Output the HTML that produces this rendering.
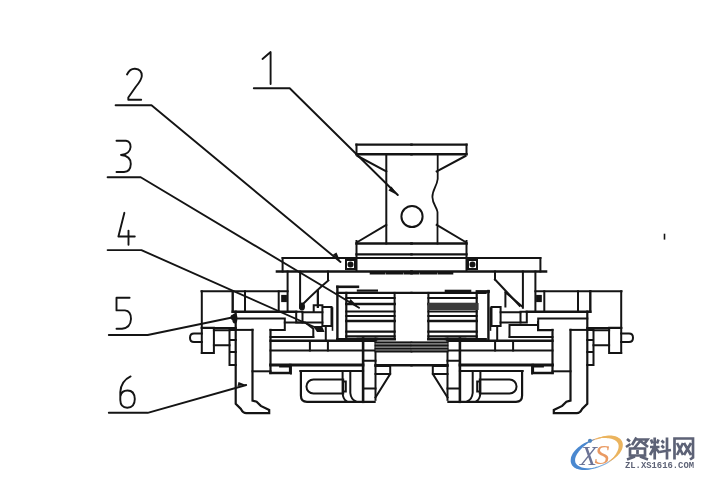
<!DOCTYPE html>
<html><head><meta charset="utf-8">
<style>
html,body{margin:0;padding:0;background:#fff;width:702px;height:478px;overflow:hidden}
svg{display:block;filter:blur(0.3px)}
</style></head>
<body>
<svg width="702" height="478" viewBox="0 0 702 478">
<rect width="702" height="478" fill="#fff"/>
<g fill="none" stroke="#141414" stroke-width="2" stroke-linecap="square">
<!-- labels -->
<g stroke-width="1.9" stroke-linecap="round" stroke-linejoin="round">
 <path d="M262.5 59 L270.6 52 V84"/>
 <path d="M127 74.5 Q130 68.5 135 68.8 Q142 69.5 141.8 76 Q141.5 80 136 86.5 L128.3 97.5 V99.7 H141.2"/>
 <path d="M116.5 140.8 H126 Q130.6 141.5 130.6 147 Q130 154 121 155 Q131 156 130.8 164 Q130.5 171.8 124 172 H116.5"/>
 <path d="M124.4 212.8 L118.4 236.5 H134.8 M128.5 230.6 V244.7"/>
 <path d="M129.6 297.8 H116.5 V310.4 H125 Q131 311 131 319 Q130.5 328 122 328.7 H116.5"/>
 <path d="M130.6 376.4 Q121 381 120.3 392 V400 Q120.5 407.7 127.2 407.7 Q134.8 407.5 134.8 399 Q134.5 390.5 127.5 390.5 Q121.5 390.5 120.5 396"/>
 <path d="M253.8 88.2 H289.7 L397.8 195"/>
 <path d="M115.6 105.3 H151.5 L340.5 262"/>
 <path d="M107.6 177.2 H140.7 L359 307.8"/>
 <path d="M107.6 250.1 H141.4 L320 329.5"/>
 <path d="M108.8 335 H147.7 L233.3 317.3"/>
 <path d="M108.8 412.8 H147.7 L246.2 385"/>
</g>
<g fill="#141414" stroke="none">
 <path d="M397.8 195.2 L388.5 190.5 L391.5 186.5 Z"/>
 <path d="M340.5 262 L333 254.5 L336.5 252.5 Z"/>
 <path d="M359 307.8 L348.5 302.5 L350.5 299 Z"/>
 <circle cx="233.3" cy="317.3" r="2.8"/>
 <ellipse cx="234.8" cy="318.5" rx="2.6" ry="5"/>
 <path d="M246.2 385 L237.5 386 L238.5 382 Z"/>
 <path d="M313 326 L322 326 L324.5 332 L317 332 Z"/>
</g>

<g id="half">
 <!-- plate 1 / column base -->
 <path d="M356.5 144.6 H411.5 M356.5 154.2 H411.5" stroke-width="2.4"/>
 <path d="M356.5 144.6 V154.2"/>
 <path d="M357.5 156 L386.3 171.5"/>
 <path d="M386.3 224.8 L357.5 242"/>
 <path d="M356.5 243.5 H411.5" stroke-width="2.6"/>
 <path d="M356.5 241 V271"/>
 <path d="M356.5 254.4 H411.5" stroke-width="2.4"/>
 <!-- plate 2 -->
 <path d="M282.6 258 H411.5"/>
 <path d="M282.6 258 V271.5"/>
 <path d="M277 271.5 H411.5" stroke-width="2.6"/>
 <rect x="346" y="260" width="9" height="9"/>
 <circle cx="350.5" cy="264.5" r="2" fill="#141414"/>
 <path d="M371 273.3 H384 M387 273.3 H402 M405 273.3 H411.5" stroke-width="2.6"/>
 <!-- legs -->
 <path d="M287.6 271.5 V310.3 M300.1 271.5 V307.8"/>
 <path d="M328 271.5 V279.5"/>
 <!-- outer box -->
 <path d="M201.5 291.3 H287.6"/>
 <path d="M201.8 291.3 V352.9"/>
 <path d="M232.7 291.3 V311.7" stroke-width="2.4"/>
 <path d="M245 291.3 V311.7"/>
 <path d="M278.7 291.3 V311.7"/>
 <rect x="281.8" y="295.5" width="4.5" height="6" fill="#141414" stroke-width="1.2"/>
 <path d="M201.8 328 H235.7" stroke-width="2.2"/>
 <!-- T bar -->
 <path d="M232.7 311.7 H296.2" stroke-width="2.4"/>
 <path d="M235.7 318.5 H284.8 V329.9 H270.5"/>
 <path d="M270.5 329.9 V373" stroke-width="2.2"/>
 <!-- claw -->
 <path d="M235.7 311.7 V403.8 L240.9 409 Q243 413.2 246.2 413.2 H269.2 V410 L260.8 405.9 L256.6 401.7 L252.5 400.6 V329.9" stroke-width="2.2"/>
 <path d="M252.5 329.9 H235.7"/>
 <path d="M252.5 371.3 H270.5"/>
 <path d="M270.5 373 H290.2 V365" stroke-width="2.6"/>
 <path d="M229.5 330 V365 M229.5 330 H235.7 M229.5 340 H235.7 M229.5 352 H235.7 M229.5 365 H235.7"/>
 <!-- pin -->
 <path d="M201.8 327.7 H213.9 V352.9 H201.8"/>
 <path d="M201.8 333.5 H194 Q190 333.5 190 337.8 Q190 342 194 342 H201.8"/>
 <path d="M213.9 330.3 H229.5 M213.9 345.3 H229.5"/>
 <!-- rails -->
 <path d="M270.5 337 H313.3" stroke-width="2"/>
 <path d="M270.5 340.7 H375.5" stroke-width="2.4"/>
 <path d="M270.5 350.5 H363" stroke-width="2"/>
 <path d="M309.9 341 V350.5 M327.9 341 V350.5"/>
 <path d="M270.5 365 H363" stroke-width="2.8"/>
 <path d="M363.1 338.5 V401.8" stroke-width="2.6"/>
 <path d="M375.5 338.5 V399.8"/>
 <path d="M363.1 350.5 H375.5 M363.1 360.8 H375.5 M363.1 388.6 H375.5"/>
 <path d="M357.9 339 H377" stroke-width="2.6"/>
 <rect x="375.5" y="341.5" width="36" height="10" fill="#9a9a9a" stroke="none"/>
 <path d="M375.5 342.3 H411.5 M375.5 345.5 H411.5 M375.5 348.6 H411.5 M375.5 351.5 H411.5" stroke-width="1.8"/>
 <path d="M375.5 365.2 H411.5" stroke-width="2.4"/>
 <path d="M375.5 365.9 H390.2 V374 H375.5 M390.2 374 L375.5 397.4"/>
 <!-- slot box -->
 <path d="M300.3 371 H363.1"/>
 <path d="M300.9 371 V395.5 Q300.9 401.8 307 401.8 H374.6" stroke-width="2.2"/>
 <path d="M342.6 371 V393 Q343 399 346.4 401.2 M350.3 371 V393 Q351 399 355.4 401.2"/>
 <path d="M313.5 379.4 H343.2 V393.5 H313.5 A7 7 0 0 1 313.5 379.4 Z"/>
 <path d="M343.2 381.5 H345.8 V391.5 H343.2"/>
 <path d="M280 366.5 H291 V373.5" stroke-width="1.8"/>
 <!-- coil left -->

 <path d="M346.3 292.9 V337.1" stroke-width="2.2"/>
 <path d="M337.4 292.9 H411.5" stroke-width="2.2"/>
 <path d="M346.3 298 H394.6 M346.3 311.4 H394.6 M346.3 316 H394.6" stroke-width="2"/>
 <path d="M346.3 304 H394.6 M346.3 321 H394.6" stroke-width="2.6"/>
 <path d="M346.3 331.7 H394.6 M346.3 336.3 H394.6" stroke-width="2.2"/>
 <path d="M394.6 292.9 V339"/>
 <path d="M337.4 339.2 H394.6" stroke-width="2.6"/>
 <!-- nut / pin -->
 <path d="M296.2 311.7 H302.5 V322.5 H296.2 Z"/>
 <path d="M302.5 312.2 H322.4 M302.5 322.5 H322.4"/>
 <path d="M322.4 307.1 H331.5 V325.9 H322.4 Z"/>
 <path d="M332.5 308 V330" stroke-width="1.6"/>
 <path d="M325.8 327 V341"/>
</g>
<use href="#half" transform="matrix(-1 0 0 1 823 0)"/>

<!-- asymmetric -->
<path d="M328.3 280.5 Q317 290 303 304"/>
<path d="M317.9 290 V306.8"/>
<path d="M313.7 305.3 H322.4 M313.7 305.3 V312"/>
<path d="M284.8 322.5 H305.3 L313.3 328.8 V337"/>
<path d="M337.4 286.8 V339.9" stroke-width="2.4"/>
<path d="M488.4 291 V339.9" stroke-width="2.4"/>
<path d="M538 322 V330.3 H550 M509.5 324.9 V337 M509.5 324.9 H538" />
<path d="M505.4 292.2 V306.5 M505.4 292.2 L521.7 306"/>
<path d="M337.4 286.8 H357.9" stroke-width="2.6"/>
<path d="M357.9 290.6 H376.9" stroke-width="2.2"/>
<path d="M446 291 H470" stroke-width="2.6"/>
<path d="M477 291.5 H488.5" stroke-width="2.8"/>
<path d="M317.8 291 V307"/>
<ellipse cx="302" cy="306.5" rx="2" ry="3" fill="#141414"/>
<path d="M495 279.5 L519.7 305.8"/>
<path d="M386.3 154.2 V243.5"/>
<path d="M437.7 154.2 V179 C437 186 432.3 190 432.4 197 C432.5 204 436.8 207 437.5 212 V243.5" stroke-width="1.8"/>
<circle cx="412" cy="216.5" r="10.6"/>
<path d="M431 306.5 H476" stroke-width="7" stroke="#3a3a3a" stroke-dasharray="6 1.5 4 1.2"/>
<path d="M664.5 234.5 V238.8" stroke-width="1.6"/>
</g>

<!-- watermark logo -->
<defs>
 <linearGradient id="gl" x1="0" y1="1" x2="1" y2="0">
  <stop offset="0" stop-color="#3f8ad8"/>
  <stop offset="0.45" stop-color="#8fb8e0"/>
  <stop offset="0.6" stop-color="#f0b080"/>
  <stop offset="1" stop-color="#e8c050"/>
 </linearGradient>
</defs>
<path d="M620.1 442.6 L620.5 444.0 L620.7 445.4 L620.7 446.9 L620.3 448.5 L619.7 450.2 L618.9 451.9 L617.8 453.5 L616.5 455.2 L614.9 456.9 L613.2 458.5 L611.3 460.0 L609.2 461.5 L607.0 462.9 L604.7 464.2 L602.3 465.3 L599.8 466.3 L597.3 467.2 L594.8 467.9 L592.3 468.5 L589.9 468.9 L587.5 469.1 L585.3 469.1 L583.2 469.0 L581.2 468.6 L579.4 468.1 L577.8 467.5 L576.3 466.7 L575.2 465.7 L574.2 464.6 L573.5 463.4 L573.1 462.0 L572.9 460.6 L572.9 459.1 L573.3 457.5 L573.9 455.8 L574.7 454.1 L575.8 452.5 L577.1 450.8 L578.7 449.1 L580.4 447.5 L582.3 446.0 L584.4 444.5 L586.6 443.1 L588.9 441.8 L591.3 440.7 L593.8 439.7 L596.3 438.8 L598.8 438.1 L601.3 437.5 L603.7 437.1 L606.1 436.9 L608.3 436.9 L610.4 437.0 L612.4 437.4 L614.2 437.9 L615.8 438.5 L617.3 439.3 L618.4 440.3 L619.4 441.4 L620.1 442.6" fill="none" stroke="url(#gl)" stroke-width="1.2"/>
<path d="M594.0 468.1 L592.2 468.7 L590.5 469.1 L588.7 469.5 L587.0 469.8 L585.3 469.9 L583.7 470.0 L582.1 469.9 L580.5 469.8 L579.1 469.5 L577.7 469.1 L576.4 468.7 L575.2 468.1 L574.2 467.4 L573.2 466.6 L572.4 465.7 L571.8 464.7 L571.3 463.7 L570.9 462.6 L570.7 461.4 L570.7 460.2 L570.8 458.9 L571.0 457.6 L571.4 456.3 L572.0 455.0 L572.7 453.6 L573.6 452.3 L574.6 451.0 L575.7 449.7 L577.0 448.5 L578.3 447.3 L579.8 446.2 L581.3 445.1 L582.9 444.0 L584.6 443.1 L586.4 442.2 L588.2 441.4 L590.0 440.7 L591.8 440.1 L593.6 439.5 L595.4 439.1 L595.4 439.1 L593.7 439.9 L592.1 440.7 L590.4 441.6 L588.9 442.6 L587.4 443.6 L585.9 444.7 L584.6 445.7 L583.3 446.8 L582.1 447.9 L581.0 449.0 L580.0 450.2 L579.0 451.3 L578.2 452.4 L577.4 453.4 L576.8 454.5 L576.3 455.6 L575.8 456.6 L575.5 457.6 L575.2 458.5 L575.1 459.5 L575.1 460.4 L575.2 461.2 L575.3 462.1 L575.6 462.9 L576.0 463.6 L576.5 464.3 L577.2 465.0 L577.9 465.6 L578.7 466.1 L579.7 466.6 L580.7 467.1 L581.8 467.5 L583.1 467.8 L584.4 468.1 L585.8 468.3 L587.3 468.4 L588.9 468.5 L590.5 468.4 L592.2 468.3 L594.0 468.1Z" fill="#4a88d0"/>
<path d="M595.4 439.1 L597.0 438.4 L598.6 437.7 L600.3 437.2 L601.9 436.7 L603.5 436.3 L605.1 436.0 L606.7 435.8 L608.3 435.6 L609.9 435.6 L611.4 435.6 L612.8 435.8 L614.2 436.0 L615.5 436.3 L616.7 436.8 L617.8 437.3 L618.8 437.9 L619.8 438.6 L620.6 439.3 L621.3 440.2 L621.8 441.1 L622.3 442.1 L622.6 443.1 L622.8 444.2 L622.8 445.3 L622.7 446.4 L622.5 447.6 L622.2 448.7 L621.7 449.9 L621.1 451.1 L620.4 452.3 L619.6 453.4 L618.6 454.6 L617.6 455.7 L616.4 456.7 L615.2 457.8 L613.9 458.8 L612.6 459.7 L611.1 460.6 L609.7 461.4 L608.1 462.2 L608.1 462.2 L609.4 461.2 L610.6 460.1 L611.7 459.0 L612.8 458.0 L613.8 456.9 L614.6 455.8 L615.4 454.7 L616.1 453.7 L616.7 452.6 L617.3 451.6 L617.7 450.6 L618.1 449.6 L618.3 448.7 L618.5 447.8 L618.6 446.9 L618.6 446.1 L618.6 445.3 L618.4 444.5 L618.2 443.8 L617.8 443.1 L617.4 442.5 L616.9 441.8 L616.3 441.3 L615.7 440.8 L614.9 440.3 L614.1 439.8 L613.2 439.4 L612.2 439.1 L611.2 438.8 L610.0 438.5 L608.8 438.3 L607.6 438.2 L606.2 438.1 L604.8 438.0 L603.4 438.0 L601.9 438.1 L600.3 438.2 L598.7 438.4 L597.1 438.7 L595.4 439.1Z" fill="#ebb45e"/>
<circle cx="590" cy="440.8" r="2.1" fill="#4f86c0"/>
<text x="580" y="464.6" font-family="Liberation Serif" font-style="italic" font-size="27" fill="#6b7396" textLength="17" lengthAdjust="spacingAndGlyphs">X</text>
<text x="594.5" y="463.8" font-family="Liberation Serif" font-style="italic" font-size="27" fill="#ea9a62" textLength="15" lengthAdjust="spacingAndGlyphs">S</text>
<g fill="none" stroke="#5d6276" stroke-width="2.7" stroke-linecap="butt">
 <path d="M627 439 L630 441.5 M626 447 L630.5 444"/>
 <path d="M634.5 439.5 H647.5 L645 443 M636.5 437.5 L632 445 M641 440 L634 448.5 M641 441.5 L648 447"/>
 <path d="M630 448.5 H645 V455.5 H630 Z M637.5 450 V454 M635 456.5 L627 459.5 M640 456.5 L648 459.5"/>
 <path d="M650 447 H659.5 M654.7 437.5 V459.5 M651 439.5 L652.5 443.5 M658.5 439.5 L657 443.5 M654 448 L650 455 M655.5 448 L659.5 453"/>
 <path d="M661.5 440.5 L664 443 M661.5 445.5 L664 448 M659.5 452 L671 450 M667 437.5 V459.5"/>
 <path d="M674.5 459.5 V438.5 H693 V457.5 L690 459.5 M677 443 L683 455 M683 443 L677 455 M684 443 L691 455 M691 443 L684 455"/>
</g>
<text x="625" y="467.6" font-family="Liberation Mono" font-weight="bold" font-size="8.6" fill="#5d6276" textLength="69" lengthAdjust="spacingAndGlyphs">ZL.XS1616.COM</text>
</svg>
</body></html>
